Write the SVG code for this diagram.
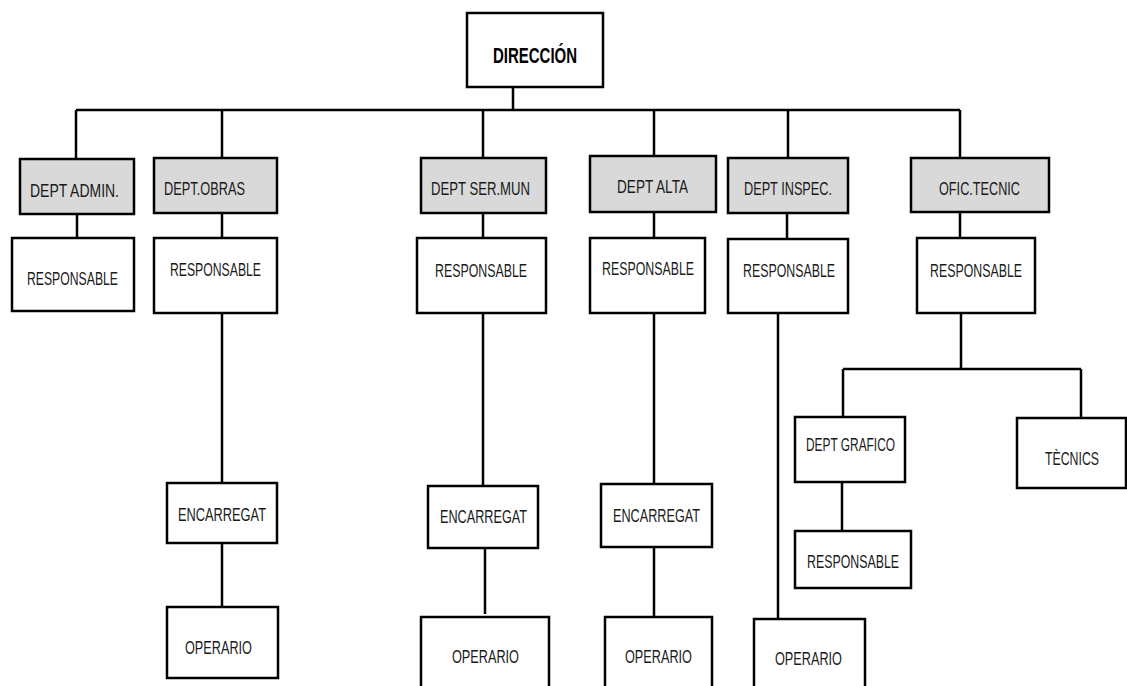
<svg xmlns="http://www.w3.org/2000/svg" width="1127" height="686" viewBox="0 0 1127 686">
<style>
.b{fill:#fff;stroke:#000;stroke-width:2.5}
.g{fill:#d9d9d9;stroke:#000;stroke-width:2.5}
.t{font-family:"Liberation Sans Narrow","Liberation Sans",sans-serif;font-size:18px;fill:#1a1a1a}
.h{font-family:"Liberation Sans Narrow","Liberation Sans",sans-serif;font-size:22px;font-weight:bold;fill:#000}
.c{fill:none;stroke:#000;stroke-width:2.5}
</style>
<rect width="1127" height="686" fill="#fff"/>
<g id="connectors" class="c">
<path d="M513 87V110M76 110H960M76 110V159M222 110V158M483 110V158M654 110V156M788 110V158M960 110V158"/>
<path d="M77 214V240M222 213V238M483 213V238M654 212V238M787 213V239M960 212V238"/>
<path d="M222 313V483M222 543V607"/>
<path d="M483 313V486M485 543V614"/>
<path d="M654 313V484M654 547V617"/>
<path d="M778 313V619"/>
<path d="M961 313V369M843 369H1081M843 369V417M1081 369V418M842 482V531"/>
</g>
<g id="direccion"><rect class="b" x="467" y="13" width="136" height="74"/><text class="h" x="493" y="63" textLength="84" lengthAdjust="spacingAndGlyphs">DIRECCIÓN</text></g>
<g id="dept-admin"><rect class="g" x="20" y="159" width="114" height="55"/><text class="t" x="30" y="197" textLength="89" lengthAdjust="spacingAndGlyphs">DEPT ADMIN.</text></g>
<g id="resp-admin"><rect class="b" x="12" y="238" width="122" height="73"/><text class="t" x="27" y="285" textLength="91" lengthAdjust="spacingAndGlyphs">RESPONSABLE</text></g>
<g id="dept-obras"><rect class="g" x="154" y="158" width="123" height="55"/><text class="t" x="164" y="195" textLength="81" lengthAdjust="spacingAndGlyphs">DEPT.OBRAS</text></g>
<g id="resp-obras"><rect class="b" x="154" y="238" width="123" height="75"/><text class="t" x="170" y="276" textLength="91" lengthAdjust="spacingAndGlyphs">RESPONSABLE</text></g>
<g id="enc-obras"><rect class="b" x="167" y="483" width="110" height="60"/><text class="t" x="178" y="521" textLength="88" lengthAdjust="spacingAndGlyphs">ENCARREGAT</text></g>
<g id="op-obras"><rect class="b" x="167" y="607" width="111" height="71"/><text class="t" x="185" y="654" textLength="67" lengthAdjust="spacingAndGlyphs">OPERARIO</text></g>
<g id="dept-sermun"><rect class="g" x="421" y="158" width="125" height="55"/><text class="t" x="431" y="195" textLength="99" lengthAdjust="spacingAndGlyphs">DEPT SER.MUN</text></g>
<g id="resp-sermun"><rect class="b" x="417" y="238" width="129" height="75"/><text class="t" x="435" y="277" textLength="92" lengthAdjust="spacingAndGlyphs">RESPONSABLE</text></g>
<g id="enc-sermun"><rect class="b" x="428" y="486" width="110" height="62"/><text class="t" x="440" y="523" textLength="87" lengthAdjust="spacingAndGlyphs">ENCARREGAT</text></g>
<g id="op-sermun"><rect class="b" x="421" y="617" width="128" height="80"/><text class="t" x="452" y="663" textLength="67" lengthAdjust="spacingAndGlyphs">OPERARIO</text></g>
<g id="dept-alta"><rect class="g" x="590" y="156" width="126" height="56"/><text class="t" x="617" y="193" textLength="71" lengthAdjust="spacingAndGlyphs">DEPT ALTA</text></g>
<g id="resp-alta"><rect class="b" x="590" y="238" width="115" height="75"/><text class="t" x="602" y="275" textLength="92" lengthAdjust="spacingAndGlyphs">RESPONSABLE</text></g>
<g id="enc-alta"><rect class="b" x="601" y="484" width="111" height="63"/><text class="t" x="613" y="522" textLength="87" lengthAdjust="spacingAndGlyphs">ENCARREGAT</text></g>
<g id="op-alta"><rect class="b" x="605" y="617" width="107" height="80"/><text class="t" x="625" y="663" textLength="67" lengthAdjust="spacingAndGlyphs">OPERARIO</text></g>
<g id="dept-inspec"><rect class="g" x="728" y="158" width="120" height="55"/><text class="t" x="744" y="195" textLength="88" lengthAdjust="spacingAndGlyphs">DEPT INSPEC.</text></g>
<g id="resp-inspec"><rect class="b" x="728" y="239" width="120" height="74"/><text class="t" x="743" y="277" textLength="92" lengthAdjust="spacingAndGlyphs">RESPONSABLE</text></g>
<g id="op-inspec"><rect class="b" x="754" y="619" width="111" height="80"/><text class="t" x="775" y="665" textLength="67" lengthAdjust="spacingAndGlyphs">OPERARIO</text></g>
<g id="ofic-tecnic"><rect class="g" x="911" y="158" width="138" height="54"/><text class="t" x="939" y="195" textLength="81" lengthAdjust="spacingAndGlyphs">OFIC.TECNIC</text></g>
<g id="resp-ofic"><rect class="b" x="917" y="238" width="118" height="75"/><text class="t" x="930" y="277" textLength="92" lengthAdjust="spacingAndGlyphs">RESPONSABLE</text></g>
<g id="dept-grafico"><rect class="b" x="795" y="417" width="110" height="65"/><text class="t" x="806" y="451" textLength="89" lengthAdjust="spacingAndGlyphs">DEPT GRAFICO</text></g>
<g id="resp-grafico"><rect class="b" x="795" y="531" width="116" height="57"/><text class="t" x="807" y="568" textLength="92" lengthAdjust="spacingAndGlyphs">RESPONSABLE</text></g>
<g id="tecnics"><rect class="b" x="1017" y="418" width="109" height="70"/><text class="t" x="1045" y="465" textLength="54" lengthAdjust="spacingAndGlyphs">TÈCNICS</text></g>
</svg>
